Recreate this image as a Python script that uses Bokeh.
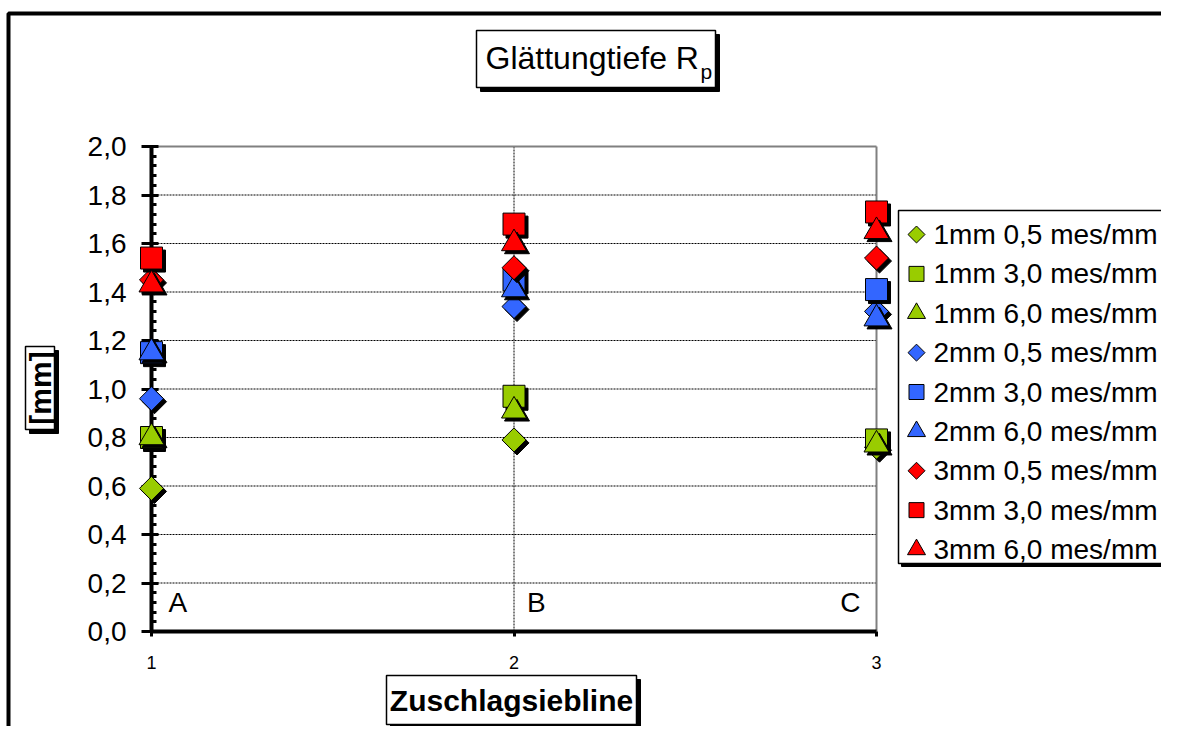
import numpy as np
from bokeh.plotting import figure
from bokeh.models import (Range1d, FixedTicker, Label, BoxAnnotation, ColumnDataSource)
from bokeh.embed import file_html
from bokeh.resources import INLINE

# ---------------- data ----------------
x_vals = [1, 2, 3]
x_tick_labels = ["1", "2", "3"]
group_labels = ["A", "B", "C"]
y_ticks = [0.0, 0.2, 0.4, 0.6, 0.8, 1.0, 1.2, 1.4, 1.6, 1.8, 2.0]
y_tick_labels = ["0,0", "0,2", "0,4", "0,6", "0,8", "1,0", "1,2", "1,4", "1,6", "1,8", "2,0"]

series_names = ["1mm 0,5 mes/mm", "1mm 3,0 mes/mm", "1mm 6,0 mes/mm",
                "2mm 0,5 mes/mm", "2mm 3,0 mes/mm", "2mm 6,0 mes/mm",
                "3mm 0,5 mes/mm", "3mm 3,0 mes/mm", "3mm 6,0 mes/mm"]
s1mm_05 = [0.59, 0.79, 0.76]
s1mm_30 = [0.80, 0.97, 0.79]
s1mm_60 = [0.80, 0.91, 0.77]
s2mm_05 = [0.96, 1.34, 1.32]
s2mm_30 = [1.15, 1.45, 1.41]
s2mm_60 = [1.15, 1.41, 1.29]
s3mm_05 = [1.45, 1.50, 1.54]
s3mm_30 = [1.54, 1.68, 1.73]
s3mm_60 = [1.43, 1.60, 1.65]
series_values = [s1mm_05, s1mm_30, s1mm_60, s2mm_05, s2mm_30, s2mm_60,
                 s3mm_05, s3mm_30, s3mm_60]

title_text = "Glättungtiefe R"
title_sub = "p"
x_label = "Zuschlagsiebline"
y_label = "[mm]"

# ---------------- style / layout ----------------
GREEN, BLUE, RED = "#99CC00", "#3366FF", "#FF0000"
colors = [GREEN] * 3 + [BLUE] * 3 + [RED] * 3
shapes = ["diamond", "square", "triangle"] * 3
FONT = "Liberation Sans"

W, H = 1161, 726
OFFX, OFFY = 2, 1           # where the canvas sits in the screenshot
PA_L, PA_R, PA_T, PA_B = 153, 878, 147, 632   # plot area in screenshot px
PXX = (PA_R - PA_L) / 2.0   # px per x unit
PXY = (PA_B - PA_T) / 2.0   # px per y unit


def dx(px):
    return 1 + (px - PA_L) / PXX


def dy(py):
    return (PA_B - py) / PXY


p = figure(width=W, height=H, title=None,
           x_range=Range1d(dx(OFFX), dx(OFFX + W)),
           y_range=Range1d(dy(OFFY + H), dy(OFFY)),
           output_backend="svg", toolbar_location=None,
           min_border=0, min_border_left=0, min_border_right=0,
           min_border_top=0, min_border_bottom=0)
p.background_fill_color = "white"
p.border_fill_color = "white"
p.outline_line_color = None
p.xgrid.visible = False
p.ygrid.visible = False

# axes fixed at the plot-area edges
minor = list(np.round(np.arange(0, 2.0001, 0.04), 2))
p.yaxis.ticker = FixedTicker(ticks=y_ticks, minor_ticks=minor)
p.yaxis.major_label_overrides = {t: l for t, l in zip(y_ticks, y_tick_labels)}
p.yaxis.fixed_location = 1
p.yaxis.bounds = (0, 2)
p.xaxis.ticker = FixedTicker(ticks=x_vals)
p.xaxis.major_label_overrides = {t: l for t, l in zip(x_vals, x_tick_labels)}
p.xaxis.fixed_location = 0
p.xaxis.bounds = (1, 3)

for ax in (p.xaxis, p.yaxis):
    ax.axis_line_color = "black"
    ax.axis_line_width = 4
    ax.major_tick_line_color = "black"
    ax.major_tick_line_width = 3
    ax.major_label_text_font = FONT
    ax.major_label_text_color = "black"

p.yaxis.major_tick_out = 10
p.yaxis.major_tick_in = 7
p.yaxis.minor_tick_in = 5
p.yaxis.minor_tick_out = 0
p.yaxis.minor_tick_line_color = "black"
p.yaxis.minor_tick_line_width = 3
p.yaxis.major_label_text_font_size = "28px"
p.yaxis.major_label_standoff = 15

p.xaxis.major_tick_out = 5
p.xaxis.major_tick_in = 0
p.xaxis.minor_tick_line_color = None
p.xaxis.major_label_text_font_size = "18px"
p.xaxis.major_label_standoff = 19

# grid lines (dashed) and plot-area border (grey, top and right)
inner = [t for t in y_ticks if 0 < t < 2]
p.segment(x0=[x_vals[0]] * len(inner), x1=[x_vals[-1]] * len(inner), y0=inner, y1=inner,
          line_color="black", line_width=1, line_dash="2 1")
p.segment(x0=x_vals[1:2], x1=x_vals[1:2], y0=[y_ticks[0]], y1=[y_ticks[-1]],
          line_color="black", line_width=1, line_dash="2 1")
p.segment(x0=[x_vals[0], x_vals[-1]], x1=[x_vals[-1], x_vals[-1]],
          y0=[y_ticks[-1], y_ticks[0]], y1=[y_ticks[-1], y_ticks[-1]],
          line_color="#808080", line_width=2)


def marker_kw(shp, big=True):
    if shp == "diamond":
        return dict(marker="square", angle=np.pi / 4, size=17 if big else 12)
    if shp == "square":
        return dict(marker="square", angle=0, size=22 if big else 15)
    return dict(marker="triangle", angle=0, size=25 if big else 18)


# markers with drop shadows
SH = 3
for vals, col, shp in zip(series_values, colors, shapes):
    kw = marker_kw(shp)
    src = ColumnDataSource(dict(x=x_vals, y=vals))
    shadow_src = ColumnDataSource(dict(x=[v + SH / PXX for v in x_vals],
                                       y=[v - SH / PXY for v in vals]))
    p.scatter("x", "y", source=shadow_src, fill_color="black", line_color="black",
              level="overlay", **kw)
    p.scatter("x", "y", source=src, fill_color=col, line_color="black",
              line_width=1, level="overlay", **kw)

# group labels A B C
offsets = [17, 13, -16]
aligns = ["left", "left", "right"]
for xv, t, off, al in zip(x_vals, group_labels, offsets, aligns):
    p.add_layout(Label(x=xv, y=0, x_offset=off, y_offset=29, text=t,
                       text_font=FONT, text_font_size="28px", text_align=al,
                       text_baseline="middle", text_color="black"))

# outer chart frame
p.add_layout(BoxAnnotation(left=dx(10), top=dy(14), right=dx(1400), bottom=dy(1000),
                           fill_alpha=0, line_color="black", line_alpha=1, line_width=4))


def boxed(l, t, r, b, shadow=4):
    p.add_layout(BoxAnnotation(left=dx(l + shadow), top=dy(t + shadow),
                               right=dx(r + shadow), bottom=dy(b + shadow),
                               fill_color="black", fill_alpha=1, line_color="black",
                               line_alpha=1, line_width=1))
    p.add_layout(BoxAnnotation(left=dx(l), top=dy(t), right=dx(r), bottom=dy(b),
                               fill_color="white", fill_alpha=1, line_color="black",
                               line_alpha=1, line_width=1.5))


# title
boxed(478, 31, 717, 88)
p.add_layout(Label(x=dx(487), y=dy(58), text=title_text, text_font=FONT,
                   text_font_size="32px", text_align="left",
                   text_baseline="middle", text_color="black"))
p.add_layout(Label(x=dx(702), y=dy(72), text=title_sub, text_font=FONT,
                   text_font_size="21px", text_align="left",
                   text_baseline="middle", text_color="black"))

# x label
boxed(388, 676, 638, 725)
p.add_layout(Label(x=dx(513), y=dy(700.5), text=x_label, text_font=FONT,
                   text_font_size="30px", text_font_style="bold",
                   text_align="center", text_baseline="middle", text_color="black"))

# y label
boxed(27, 347, 56, 430)
p.add_layout(Label(x=dx(41.5), y=dy(388.5), text=y_label, text_font=FONT,
                   text_font_size="30px", text_font_style="bold", angle=np.pi / 2,
                   text_align="center", text_baseline="middle", text_color="black"))

# legend (box with shadow, swatches and entries)
LG_L, LG_T, LG_B = 900, 211, 564
boxed(LG_L, LG_T, 1400, LG_B, shadow=3)
row_h = (550 - 235) / (len(series_names) - 1)
for i, (name, col, shp) in enumerate(zip(series_names, colors, shapes)):
    yc = 235 + i * row_h
    p.scatter(x=[dx(918)], y=[dy(yc)], fill_color=col, line_color="black",
              line_width=1, level="overlay", **marker_kw(shp, big=False))
    p.add_layout(Label(x=dx(935), y=dy(yc), text=name, text_font=FONT,
                       text_font_size="28px", text_align="left",
                       text_baseline="middle", text_color="black"))

open("out.html", "w").write(file_html(p, INLINE))
